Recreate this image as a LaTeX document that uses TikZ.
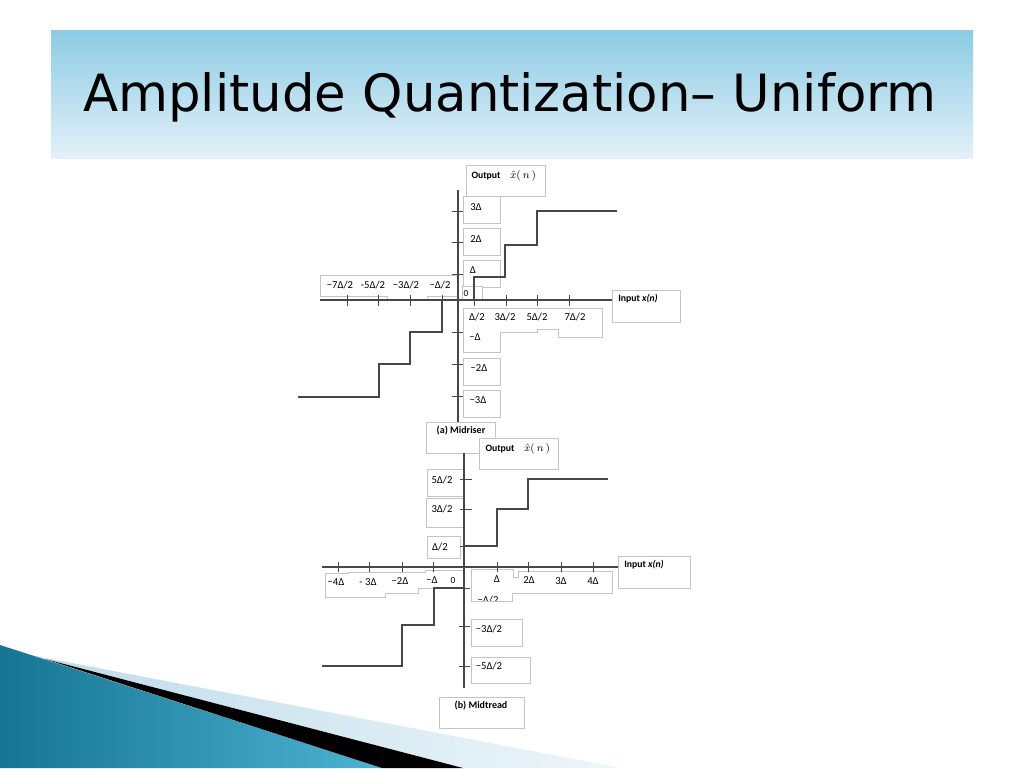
\documentclass[tikz,border=0pt]{standalone}
\usepackage{fontspec}
\setmainfont{Carlito}
\newfontfamily\titlefont{DejaVu Sans}
\definecolor{boxgray}{HTML}{C4C4C4}
\definecolor{linecol}{HTML}{474747}
\definecolor{bandtop}{HTML}{8CCBE5}
\definecolor{bandbot}{HTML}{E4F1F8}
\definecolor{tealdark}{HTML}{167593}
\definecolor{teallight}{HTML}{4DB3D3}
\definecolor{lightband}{HTML}{BEDCEA}
\definecolor{lightband2}{HTML}{EEF6FA}
\begin{document}
\begin{tikzpicture}[x=0.75pt,y=-0.75pt,
  bx/.style={draw=boxgray,fill=white,line width=0.6pt},
  axline/.style={draw=linecol,line width=0.85pt},
  tickline/.style={draw=linecol,line width=0.75pt},
  stair/.style={draw=linecol,line width=0.95pt},
  lbl/.style={inner sep=0pt,font=\fontsize{8}{9}\selectfont},
  mth/.style={inner sep=0pt,font=\fontsize{8.5}{9}\selectfont},
  bold/.style={inner sep=0pt,font=\fontsize{7.3}{9}\selectfont\bfseries}]
\useasboundingbox (0,0) rectangle (1024,768);
\fill[white] (0,0) rectangle (1024,768);
% title band
\shade[top color=bandtop,bottom color=bandbot] (51,30) rectangle (973,158);
\node[anchor=base west,inner sep=0pt,font=\titlefont\fontsize{38.5}{40}\selectfont] (title) at (83,111) {Amplitude Quantization– Uniform};
% bottom-left decoration
\shade[left color=lightband,right color=lightband2] (30,655) -- (621,768) -- (463,768) -- cycle;
\shade[left color=tealdark,right color=teallight] (0,645) -- (382,768) -- (0,768) -- cycle;
\fill[black] (45,659) -- (463,768) -- (382,768) -- cycle;

% ---------- upper plot boxes ----------
\draw[bx] (466,165) rectangle (545,196);
\draw[bx] (463,196) rectangle (500,223);
\draw[bx] (463,228) rectangle (500,255);
\draw[bx] (463,260) rectangle (500,287);
\draw[bx] (462,286) rectangle (482,300);
\draw[bx] (320,275) -- (457,275) -- (457,296) -- (427,296) -- (427,299) -- (387,299) -- (387,296) -- (320,296) -- cycle;
\draw[bx] (463,308) -- (602,308) -- (602,337) -- (558,337) -- (558,329) -- (537,329) -- (537,332) -- (500,332) -- (500,352) -- (463,352) -- cycle;
\draw[bx] (463,358) rectangle (500,385);
\draw[bx] (463,390) rectangle (500,417);
\draw[bx] (612,290) rectangle (680,322);
\draw[bx] (426,422) rectangle (495,453);
\draw[bx] (479,438) rectangle (558,469);

% ---------- lower plot boxes ----------
\draw[bx] (427,469) rectangle (464,496);
\draw[bx] (426,498) rectangle (464,527);
\draw[bx] (427,536) rectangle (460,558);
\draw[bx] (325,573) -- (348,573) -- (348,572) -- (425,572) -- (425,570) -- (463,570) -- (463,588) -- (418,588) -- (418,593) -- (385,593) -- (385,597) -- (325,597) -- cycle;
\draw[bx] (471,569) -- (513,569) -- (513,577) -- (518,577) -- (518,571) -- (612,571) -- (612,593) -- (512,593) -- (512,601) -- (471,601) -- cycle;
\draw[bx] (618,556) rectangle (690,588);
\draw[bx] (471,619) rectangle (522,646);
\draw[bx] (471,657) rectangle (530,683);
\draw[bx] (439,697) rectangle (524,728);

% ---------- upper plot lines ----------
\draw[axline] (458,190) -- (458,422);
\draw[axline] (320,300) -- (612,300);
\foreach \yy in {211,242,274,332,364,396} \draw[tickline] (452,\yy) -- (463,\yy);
\foreach \xx in {347,378,410,442,474,506,537,569} \draw[tickline] (\xx,295) -- (\xx,306);
\draw[stair] (474,300) -- (474,277) -- (505,277) -- (505,245) -- (537,245) -- (537,211) -- (617,211);
\draw[stair] (442,300) -- (442,332) -- (410,332) -- (410,364) -- (379,364) -- (379,397) -- (298,397);

% ---------- lower plot lines ----------
\draw[axline] (464,453) -- (464,688);
\draw[axline] (322,567) -- (618,567);
\foreach \xx in {338,369,402,433,497,528,561,593} \draw[tickline] (\xx,562) -- (\xx,572);
\foreach \yy in {479,509,546} \draw[tickline] (460,\yy) -- (472,\yy);
\foreach \yy in {588,626,666} \draw[tickline] (459,\yy) -- (470,\yy);
\draw[stair] (464,546) -- (497,546) -- (497,509) -- (528,509) -- (528,479) -- (608,479);
\draw[stair] (464,588) -- (434,588) -- (434,625) -- (402,625) -- (402,666) -- (322,666);

% ---------- upper plot text ----------
\node[bold] (outA) at (486,176) {Output};
\node[mth] (xhatA) at (523,176) {$\hat{x}(\,n\,)$};
\node[lbl] (a3) at (476,207) {3Δ};
\node[lbl] (a2) at (476,239) {2Δ};
\node[lbl] (a1) at (473,270) {Δ};
\node[lbl,font=\fontsize{7}{8}\selectfont] (a0) at (466,293) {0};
\node[lbl] (am7) at (340,285) {−7Δ/2};
\node[lbl] (am5) at (373,285) {-5Δ/2};
\node[lbl] (am3) at (406,285) {−3Δ/2};
\node[lbl] (am1) at (440,285) {−Δ/2};
\node[lbl] (ap1) at (477,317) {Δ/2};
\node[lbl] (ap3) at (505,317) {3Δ/2};
\node[lbl] (ap5) at (537,317) {5Δ/2};
\node[lbl] (ap7) at (575,317) {7Δ/2};
\node[lbl] (an1) at (475,337) {−Δ};
\node[lbl] (an2) at (479,368) {−2Δ};
\node[lbl] (an3) at (478,400) {−3Δ};
\node[bold] (inA) at (638,299) {Input \textit{x(n)}};
\node[bold,font=\fontsize{7.5}{9}\selectfont\bfseries] (capA) at (461,431) {(a) Midriser};

% ---------- lower plot text ----------
\node[bold] (outB) at (500,449) {Output};
\node[mth] (xhatB) at (537,449) {$\hat{x}(\,n\,)$};
\node[lbl] (b5) at (442,480) {5Δ/2};
\node[lbl] (b3) at (442,509) {3Δ/2};
\node[lbl] (b1) at (440,547) {Δ/2};
\node[lbl] (bm4) at (336,582) {−4Δ};
\node[lbl] (bm3) at (368,582) {- 3Δ};
\node[lbl] (bm2) at (400,581) {−2Δ};
\node[lbl] (bm1) at (432,580) {−Δ};
\node[lbl,font=\fontsize{7}{8}\selectfont] (b0) at (453,580) {0};
\node[lbl] (bp1) at (497,579) {Δ};
\node[lbl] (bp2) at (529,580) {2Δ};
\node[lbl] (bp3) at (561,581) {3Δ};
\node[lbl] (bp4) at (593,581) {4Δ};
\begin{scope}
\clip (471,588) rectangle (512,600);
\node[lbl] (bn1) at (488,600) {−Δ/2};
\end{scope}
\node[lbl] (bn3) at (489,629) {−3Δ/2};
\node[lbl] (bn5) at (489,666) {−5Δ/2};
\node[bold] (inB) at (644,565) {Input \textit{x(n)}};
\node[bold,font=\fontsize{7.5}{9}\selectfont\bfseries] (capB) at (481,706) {(b) Midtread};
\end{tikzpicture}
\end{document}
